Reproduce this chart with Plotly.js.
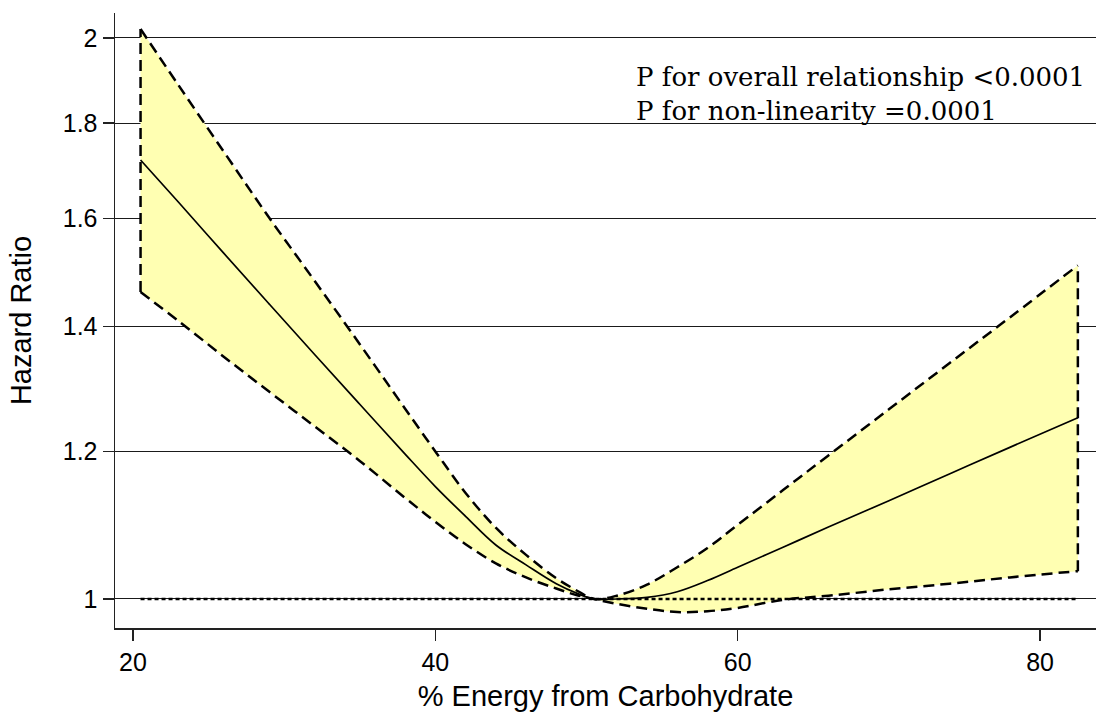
<!DOCTYPE html>
<html>
<head>
<meta charset="utf-8">
<script src="https://cdn.plot.ly/plotly-3.0.1.min.js"></script>
<style>
  html, body { margin: 0; padding: 0; background: #fff; }
  #chart { width: 1099px; height: 712px; }
</style>
</head>
<body>
<div id="chart"></div>
<script>
// % energy from carbohydrate (shared grid for all curves)
const carbPct = [20.5, 23, 26, 29, 32, 35, 38, 40, 42, 44, 46, 48, 49.5, 50.5,
                 52, 54, 56, 58, 60, 63, 66, 70, 74, 78, 82.5];
// Estimated hazard ratio
const hrEstimate = [1.720, 1.633, 1.533, 1.440, 1.353, 1.272, 1.196, 1.149, 1.1075, 1.069, 1.043, 1.019, 1.006, 1.000,
                    1.000, 1.002, 1.009, 1.023, 1.040, 1.066, 1.093, 1.129, 1.167, 1.206, 1.251];
// Upper 95% confidence limit
const hrUpper = [2.022, 1.887, 1.738, 1.602, 1.482, 1.370, 1.265, 1.200, 1.140, 1.092, 1.056, 1.026, 1.009, 1.000,
                 1.004, 1.018, 1.040, 1.065, 1.096, 1.144, 1.194, 1.264, 1.338, 1.416, 1.510];
// Lower 95% confidence limit
const hrLower = [1.461, 1.410, 1.349, 1.292, 1.238, 1.186, 1.133, 1.100, 1.070, 1.045, 1.027, 1.013, 1.004, 1.000,
                 0.994, 0.988, 0.984, 0.985, 0.989, 0.999, 1.004, 1.012, 1.019, 1.027, 1.035];
// Reference hazard ratio
const hrReference = 1;
// Axis ticks
const yTickVals = [1, 1.2, 1.4, 1.6, 1.8, 2];
const yTickText = ['1', '1.2', '1.4', '1.6', '1.8', '2'];
const xTickVals = [20, 40, 60, 80];
// Test results shown in the corner
const pLines = ['P for overall relationship <0.0001', 'P for non-linearity =0.0001'];

const first = 0, last = carbPct.length - 1;
const dashed = { color: '#000', width: 2.5, dash: '11px,6px', shape: 'spline', smoothing: 1 };
const base = { type: 'scatter', mode: 'lines', hoverinfo: 'skip', showlegend: false };

const traces = [
  // lower limit
  Object.assign({}, base, { x: carbPct, y: hrLower, line: dashed }),
  // upper limit, shaded down to the lower limit
  Object.assign({}, base, { x: carbPct, y: hrUpper, line: dashed,
                            fill: 'tonexty', fillcolor: 'rgb(255,255,178)' }),
  // closing edges of the band at both ends
  Object.assign({}, base, { x: [carbPct[first], carbPct[first]], y: [hrLower[first], hrUpper[first]],
                            line: { color: '#000', width: 2.5, dash: '11px,6px' } }),
  Object.assign({}, base, { x: [carbPct[last], carbPct[last]], y: [hrLower[last], hrUpper[last]],
                            line: { color: '#000', width: 2.5, dash: '11px,6px' } }),
  // reference line at HR = 1
  Object.assign({}, base, { x: [carbPct[first], carbPct[last]], y: [hrReference, hrReference],
                            line: { color: '#000', width: 2.5, dash: '4px,3px' } }),
  // point estimate
  Object.assign({}, base, { x: carbPct, y: hrEstimate,
                            line: { color: '#000', width: 1.7, shape: 'spline', smoothing: 1 } })
];

const sansFont = 'Liberation Sans, Arial, Helvetica, sans-serif';

const layout = {
  width: 1099, height: 712,
  margin: { l: 115, r: 3, t: 13, b: 84 },
  paper_bgcolor: '#fff', plot_bgcolor: '#fff',
  showlegend: false,
  xaxis: {
    range: [18.81, 83.7],
    tickvals: xTickVals,
    ticks: 'outside', ticklen: 11, tickwidth: 1.5, tickcolor: '#222',
    showline: true, linecolor: '#222', linewidth: 1.5,
    showgrid: false, zeroline: false,
    tickfont: { family: sansFont, size: 25, color: '#000' },
    title: { text: '% Energy from Carbohydrate', font: { family: sansFont, size: 29, color: '#000' } }
  },
  yaxis: {
    type: 'log',
    range: [-0.01557, 0.3144],
    tickvals: yTickVals, ticktext: yTickText,
    ticks: 'outside', ticklen: 11, tickwidth: 1.5, tickcolor: '#222',
    showline: true, linecolor: '#222', linewidth: 1.5,
    showgrid: true, gridcolor: '#1a1a1a', gridwidth: 1,
    zeroline: false,
    automargin: true,
    tickfont: { family: sansFont, size: 25, color: '#000' },
    title: { text: 'Hazard Ratio', standoff: 22, font: { family: sansFont, size: 29, color: '#000' } }
  },
  annotations: [{
    text: pLines.join('<br>'), xref: 'paper', yref: 'paper',
    x: 0.529, y: 0.924, xanchor: 'left', yanchor: 'top', align: 'left',
    showarrow: false,
    font: { family: 'DejaVu Serif, Liberation Serif, serif', size: 26, color: '#000' }
  }]
};

Plotly.newPlot('chart', traces, layout, { displayModeBar: false, staticPlot: true });
</script>
</body>
</html>
